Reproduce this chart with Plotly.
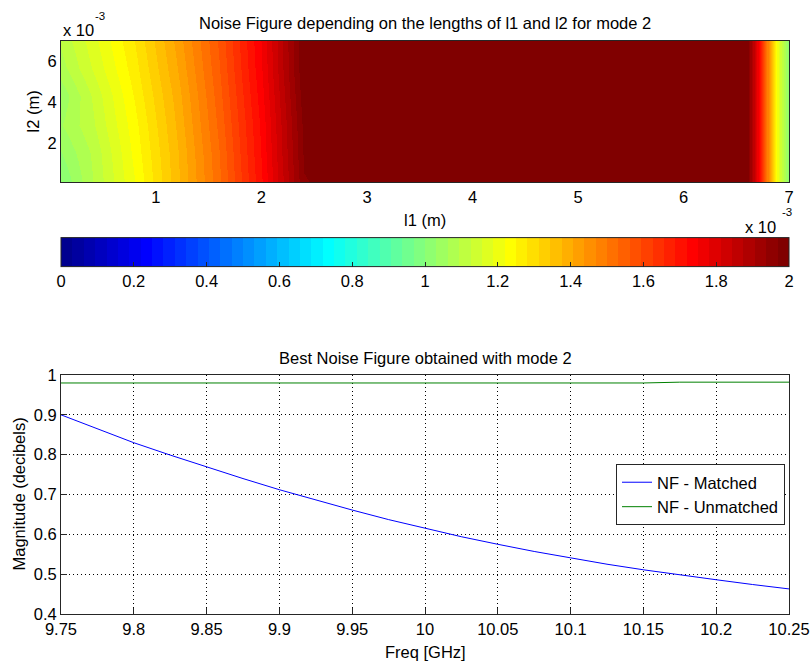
import plotly.graph_objects as go

# ---------------- data ----------------
# heat map: noise figure vs l1 (columns) and l2 (rows), lengths in mm (scaled to m below)
l1_mm = [0.1, 0.4, 0.8, 1.2, 1.6, 2.0, 2.4, 3.0, 4.0, 5.0, 6.0, 6.6, 6.7, 6.8, 6.9, 7.0]
l2_mm = [0.1, 1.5, 2.9, 4.3, 5.7, 7.0]
nf_map = [
    [1.00, 1.094, 1.219, 1.365, 1.524, 1.712, 1.966, 2.0, 2.0, 2.0, 2.0, 2.0, 1.78, 1.47, 1.19, 1.00],
    [1.03, 1.100, 1.230, 1.370, 1.530, 1.720, 1.975, 2.0, 2.0, 2.0, 2.0, 2.0, 1.78, 1.47, 1.19, 1.00],
    [1.06, 1.120, 1.240, 1.380, 1.540, 1.725, 1.980, 2.0, 2.0, 2.0, 2.0, 2.0, 1.78, 1.47, 1.19, 1.00],
    [1.04, 1.130, 1.255, 1.390, 1.550, 1.735, 1.990, 2.0, 2.0, 2.0, 2.0, 2.0, 1.78, 1.47, 1.19, 1.00],
    [1.08, 1.160, 1.270, 1.405, 1.560, 1.745, 2.000, 2.0, 2.0, 2.0, 2.0, 2.0, 1.78, 1.47, 1.19, 1.00],
    [1.10, 1.175, 1.283, 1.417, 1.568, 1.750, 2.000, 2.0, 2.0, 2.0, 2.0, 2.0, 1.78, 1.47, 1.19, 1.00],
]
l1_ticks = [1, 2, 3, 4, 5, 6, 7]
l2_ticks = [2, 4, 6]
cbar_ticks = [0, 0.2, 0.4, 0.6, 0.8, 1, 1.2, 1.4, 1.6, 1.8, 2]
cbar_labels = ["0", "0.2", "0.4", "0.6", "0.8", "1", "1.2", "1.4", "1.6", "1.8", "2"]

# line plot
freq = [9.75, 9.775, 9.80, 9.825, 9.85, 9.875, 9.90, 9.925, 9.95, 9.975, 10.00,
        10.025, 10.05, 10.075, 10.10, 10.125, 10.15, 10.175, 10.20, 10.225, 10.25]
nf_matched = [0.900, 0.864, 0.830, 0.799, 0.769, 0.740, 0.712, 0.686, 0.661, 0.637, 0.615,
              0.594, 0.575, 0.557, 0.541, 0.525, 0.511, 0.498, 0.486, 0.474, 0.463]
nf_unmatched = [0.980, 0.980, 0.980, 0.980, 0.980, 0.980, 0.980, 0.980, 0.980, 0.980, 0.980,
                0.980, 0.980, 0.980, 0.980, 0.980, 0.980, 0.982, 0.982, 0.982, 0.982]
freq_ticks = [9.75, 9.8, 9.85, 9.9, 9.95, 10, 10.05, 10.1, 10.15, 10.2, 10.25]
freq_labels = ["9.75", "9.8", "9.85", "9.9", "9.95", "10", "10.05", "10.1", "10.15", "10.2", "10.25"]
mag_ticks = [0.4, 0.5, 0.6, 0.7, 0.8, 0.9, 1]
mag_labels = ["0.4", "0.5", "0.6", "0.7", "0.8", "0.9", "1"]

# ---------------- MATLAB jet(64) colormap ----------------
def matlab_jet(m=64):
    n = -(-m // 4)
    u = [i / n for i in range(1, n + 1)] + [1.0] * (n - 1) + [i / n for i in range(n, 0, -1)]
    base = -(-n // 2) - (1 if m % 4 == 1 else 0)
    g = [base + i for i in range(1, len(u) + 1)]
    r = [v + n for v in g]
    b = [v - n for v in g]
    g = [v for v in g if v <= m]
    r = [v for v in r if v <= m]
    b = [v for v in b if v >= 1]
    J = [[0.0, 0.0, 0.0] for _ in range(m)]
    for k, idx in enumerate(r):
        J[idx - 1][0] = u[k]
    for k, idx in enumerate(g):
        J[idx - 1][1] = u[k]
    off = len(u) - len(b)
    for k, idx in enumerate(b):
        J[idx - 1][2] = u[off + k]
    return J

jet = matlab_jet(64)
cscale = []
for i, (r, g, b) in enumerate(jet):
    col = "rgb(%d,%d,%d)" % (round(r * 255), round(g * 255), round(b * 255))
    cscale.append([i / 64, col])
    cscale.append([(i + 1) / 64, col])

# ---------------- geometry helpers (px -> paper) ----------------
W, H = 811, 661
ML, MR, MT, MB = 61, 22, 41, 47
PW, PH = W - ML - MR, H - MT - MB
def px(x):
    return (x - ML) / PW
def py(y):
    return (H - MB - y) / PH

FONT = "Liberation Sans, Arial, Helvetica, sans-serif"
FS = 16.5
AX = "#262626"

l1 = [v * 1e-3 for v in l1_mm]
l2 = [v * 1e-3 for v in l2_mm]

fig = go.Figure()
fig.add_trace(go.Heatmap(
    x=l1, y=l2, z=nf_map, zmin=0, zmax=2, zsmooth="best",
    colorscale=cscale, xaxis="x", yaxis="y", hoverinfo="skip",
    colorbar=dict(
        orientation="h", x=0.5, xanchor="center", y=py(266.5), yanchor="middle",
        len=1, lenmode="fraction", thickness=29, thicknessmode="pixels",
        xpad=0, ypad=0, outlinecolor=AX, outlinewidth=1,
        tickmode="array", tickvals=cbar_ticks, ticktext=cbar_labels,
        ticks="inside", ticklen=5, tickcolor=AX,
        tickfont=dict(family=FONT, size=FS, color="black"),
    ),
))
fig.add_trace(go.Scatter(x=freq, y=nf_matched, mode="lines", name="NF - Matched",
                         line=dict(color="rgb(0,0,255)", width=1), xaxis="x2", yaxis="y2"))
fig.add_trace(go.Scatter(x=freq, y=nf_unmatched, mode="lines", name="NF - Unmatched",
                         line=dict(color="rgb(0,128,0)", width=1), xaxis="x2", yaxis="y2"))

common = dict(showline=True, linecolor=AX, linewidth=1, mirror=True, zeroline=False,
              tickfont=dict(family=FONT, size=FS, color="black"))

fig.update_layout(
    width=W, height=H, margin=dict(l=ML, r=MR, t=MT, b=MB, autoexpand=False),
    paper_bgcolor="white", plot_bgcolor="white",
    font=dict(family=FONT, size=FS, color="black"),
    showlegend=True,
    legend=dict(x=px(785), xanchor="right", y=py(464), yanchor="top",
                bgcolor="white", bordercolor=AX, borderwidth=1,
                font=dict(family=FONT, size=FS, color="black"),
                tracegroupgap=0),
    xaxis=dict(domain=[0, 1], anchor="y", range=[0.1e-3, 7e-3],
               tickmode="array", tickvals=[v * 1e-3 for v in l1_ticks],
               ticktext=[str(v) for v in l1_ticks], ticks="", showgrid=False, **common),
    yaxis=dict(domain=[py(182), 1], anchor="x", range=[0.1e-3, 7e-3],
               tickmode="array", tickvals=[v * 1e-3 for v in l2_ticks],
               ticktext=[str(v) for v in l2_ticks], ticks="", showgrid=False, **common),
    xaxis2=dict(domain=[0, 1], anchor="y2", range=[9.75, 10.25],
                tickmode="array", tickvals=freq_ticks, ticktext=freq_labels,
                ticks="inside", ticklen=6, tickcolor=AX,
                showgrid=True, gridcolor="black", gridwidth=1, griddash="1px,3px", **common),
    yaxis2=dict(domain=[0, py(375)], anchor="x2", range=[0.4, 1],
                tickmode="array", tickvals=mag_ticks, ticktext=mag_labels,
                ticks="inside", ticklen=6, tickcolor=AX,
                showgrid=True, gridcolor="black", gridwidth=1, griddash="1px,3px", **common),
)

def ann(text, x, y, xanchor="center", yanchor="middle", size=FS, angle=0):
    fig.add_annotation(text=text, x=x, y=y, xref="paper", yref="paper",
                       xanchor=xanchor, yanchor=yanchor, showarrow=False,
                       textangle=angle, font=dict(family=FONT, size=size, color="black"))

ann("Noise Figure depending on the lengths of l1 and l2 for mode 2", 0.5, py(23))
ann("x 10", px(61), py(30), xanchor="left")
ann("-3", px(93), py(16), xanchor="left", size=11.5)
ann("l2 (m)", px(32), py(111.5), angle=-90)
ann("l1 (m)", 0.5, py(220))
ann("x 10", px(778), py(227), xanchor="right")
ann("-3", px(780), py(212), xanchor="left", size=11.5)
ann("Best Noise Figure obtained with mode 2", 0.5, py(358))
ann("Freq [GHz]", 0.5, py(652))
ann("Magnitude (decibels)", px(18), py(494.5), angle=-90)

fig.write_html("out.html")
